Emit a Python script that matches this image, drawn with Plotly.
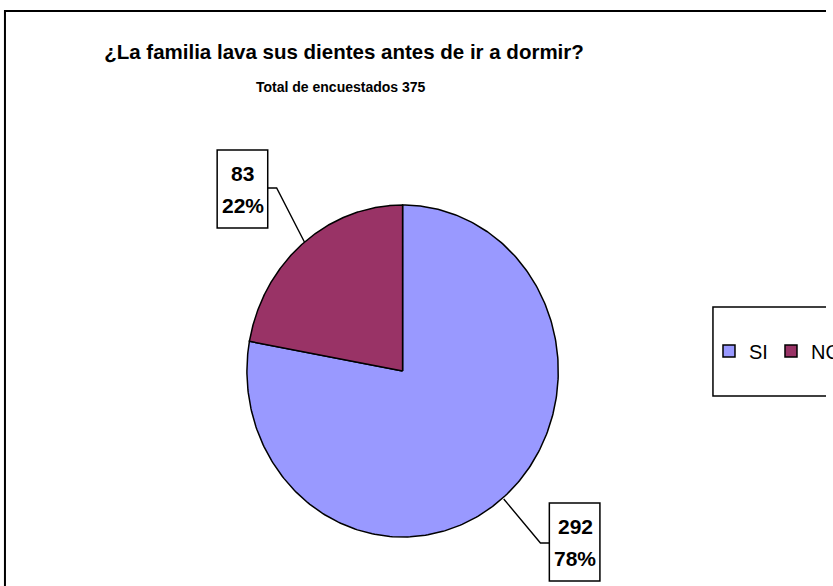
import numpy as np
import plotly.graph_objects as go

# ---- data ----
categories = ["SI", "NO"]
values = [292, 83]
colors = ["#9999FF", "#993366"]
title_text = "¿La familia lava sus dientes antes de ir a dormir?"
subtitle_text = "Total de encuestados 375"

total = sum(values)
FONT = "Liberation Sans, Arial, sans-serif"

# ---- geometry (pixel-like axis space) ----
W, H = 833, 586
cx, cy, rx, ry = 406, 371, 157, 166

fig = go.Figure()

cum = 0
for cat, v, col in zip(categories, values, colors):
    f0, f1 = cum / total, (cum + v) / total
    t = np.linspace(f0, f1, 300) * 2 * np.pi
    xs = np.concatenate([[cx], cx + rx * np.sin(t), [cx]])
    ys = np.concatenate([[cy], cy - ry * np.cos(t), [cy]])
    fig.add_trace(go.Scatter(x=xs, y=ys, mode="lines", fill="toself",
                             fillcolor=col, line=dict(color="black", width=1.5),
                             showlegend=False, hoverinfo="skip"))
    cum += v

# legend entries
for cat, col in zip(categories, colors):
    fig.add_trace(go.Scatter(x=[None], y=[None], mode="markers", name=cat,
                             marker=dict(symbol="square", size=12, color=col,
                                         line=dict(color="black", width=1.5))))

shapes = []
annotations = []

# outer border (right and bottom edges lie outside the visible area)
shapes.append(dict(type="path", xref="x", yref="y",
                   path=f"M 5,{H + 20} L 5,11 L {W + 20},11",
                   line=dict(color="black", width=2)))
# legend box (right edge lies outside the visible area)
shapes.append(dict(type="path", xref="x", yref="y",
                   path=f"M {W + 20},307 L 719,307 L 719,396 L {W + 20},396",
                   line=dict(color="black", width=1.5)))

# data label boxes and leader lines
label_boxes = {"NO": (219, 150, 270, 228), "SI": (554, 503, 605, 581)}
leaders = {"NO": "M 270,188 L 279,188 L 307,242", "SI": "M 554,543 L 545,543 L 508,499"}
for cat, v in zip(categories, values):
    x0, y0, x1, y1 = label_boxes[cat]
    shapes.append(dict(type="rect", xref="x", yref="y", x0=x0, y0=y0, x1=x1, y1=y1,
                       line=dict(color="black", width=1.5), fillcolor="white"))
    shapes.append(dict(type="path", xref="x", yref="y", path=leaders[cat],
                       line=dict(color="black", width=1.4)))
    xc = (x0 + x1) / 2 + 0.5
    pct = round(100 * v / total)
    annotations.append(dict(x=xc, y=y0 + 23, xref="x", yref="y", text=f"<b>{v}</b>",
                            showarrow=False, font=dict(family=FONT, size=21, color="black")))
    annotations.append(dict(x=xc, y=y0 + 55, xref="x", yref="y", text=f"<b>{pct}%</b>",
                            showarrow=False, font=dict(family=FONT, size=21, color="black")))

# subtitle
annotations.append(dict(x=344, y=87, xref="x", yref="y", text=f"<b>{subtitle_text}</b>",
                        showarrow=False, font=dict(family=FONT, size=14, color="black")))

fig.update_layout(
    width=W, height=H,
    margin=dict(l=0, r=0, t=0, b=0),
    paper_bgcolor="white", plot_bgcolor="white",
    title=dict(text=f"<b>{title_text}</b>", x=344 / W, xanchor="center",
               y=1 - 52 / H, yanchor="middle",
               font=dict(family=FONT, size=20.5, color="black")),
    xaxis=dict(range=[0, W], visible=False, fixedrange=True),
    yaxis=dict(range=[H, 0], visible=False, fixedrange=True),
    shapes=shapes,
    annotations=annotations,
    showlegend=True,
    legend=dict(orientation="h", x=715 / W, xanchor="left", y=1 - 351 / H, yanchor="middle",
                bgcolor="rgba(0,0,0,0)", borderwidth=0,
                entrywidth=17, entrywidthmode="pixels",
                font=dict(family=FONT, size=20, color="black")),
)

fig.write_html(
    "out.html",
    config={"displayModeBar": False},
    post_script=("document.body.style.margin='0';"
                 "document.body.style.overflow='hidden';"
                 "document.documentElement.style.overflow='hidden';"),
)
